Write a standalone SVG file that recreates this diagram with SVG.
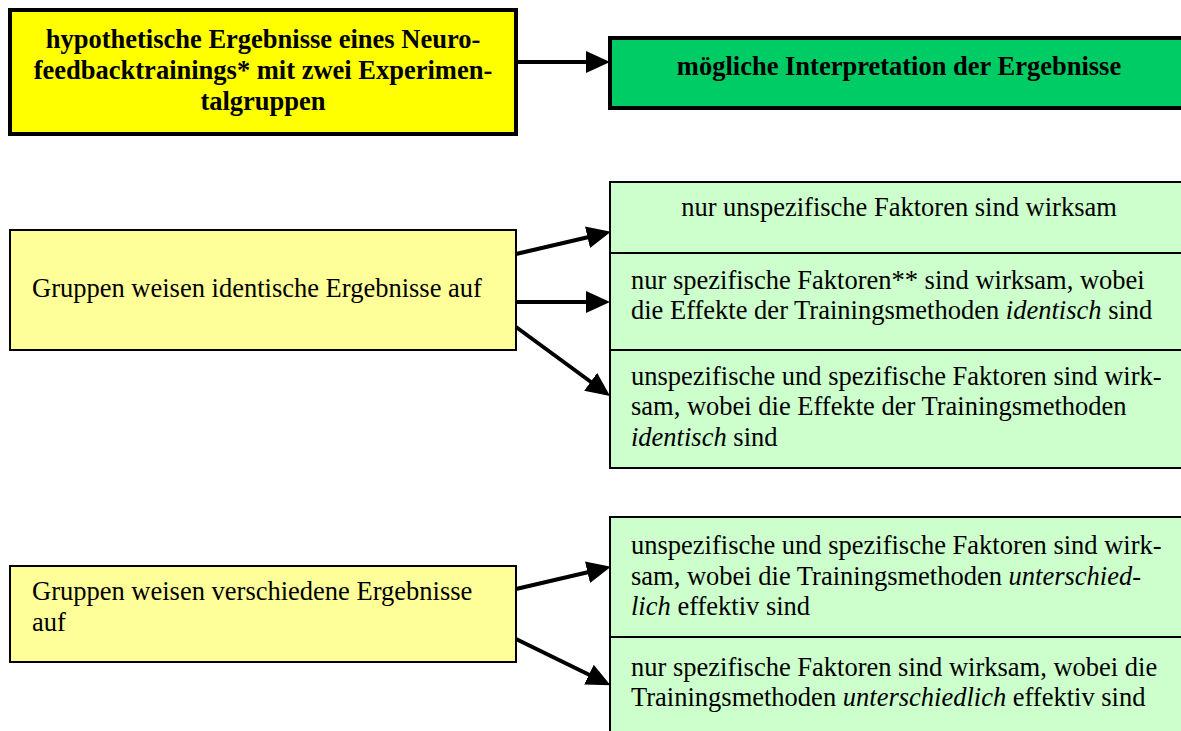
<svg xmlns="http://www.w3.org/2000/svg" width="1181" height="731" viewBox="0 0 1181 731">
<style>
  text { font-family: "Liberation Serif", "Times New Roman", serif; font-size: 26.5px; fill: #000; }
  .b { font-weight: bold; }
  .c { text-anchor: middle; }
  .head { stroke: #000; stroke-width: 4; }
  .thin { stroke: #000; stroke-width: 2; }
  .conn { stroke: #000; stroke-width: 4; fill: none; marker-end: url(#ah); }
</style>
<defs>
  <marker id="ah" viewBox="0 0 24 22" refX="19" refY="11" markerWidth="24" markerHeight="22" markerUnits="userSpaceOnUse" orient="auto">
    <path d="M0,0 L24,11 L0,22 Z" fill="#000"/>
  </marker>
</defs>
<rect width="1181" height="731" fill="#fff"/>

<g id="n-hypothese">
  <rect class="head" x="10" y="10" width="506" height="124" fill="#FFFF00"/>
  <text class="b c" x="263" y="48">hypothetische Ergebnisse eines Neuro-</text>
  <text class="b c" x="263" y="79">feedbacktrainings* mit zwei Experimen-</text>
  <text class="b c" x="263" y="110">talgruppen</text>
</g>
<g id="n-interpretation">
  <rect class="head" x="610" y="38" width="580" height="70" fill="#00CC66"/>
  <text class="b c" x="899" y="75">mögliche Interpretation der Ergebnisse</text>
</g>

<g id="n-identisch">
  <rect class="thin" x="10" y="230" width="506" height="120" fill="#FFFF99"/>
  <text x="32" y="297">Gruppen weisen identische Ergebnisse auf</text>
</g>
<g id="n-a">
  <rect class="thin" x="610" y="182" width="580" height="71" fill="#CCFFCC"/>
  <text class="c" x="899" y="216">nur unspezifische Faktoren sind wirksam</text>
</g>
<g id="n-b">
  <rect class="thin" x="610" y="253" width="580" height="97" fill="#CCFFCC"/>
  <text x="631" y="289">nur spezifische Faktoren** sind wirksam, wobei</text>
  <text x="631" y="319">die Effekte der Trainingsmethoden <tspan font-style="italic">identisch</tspan> sind</text>
</g>
<g id="n-c">
  <rect class="thin" x="610" y="350" width="580" height="118" fill="#CCFFCC"/>
  <text x="631" y="385">unspezifische und spezifische Faktoren sind wirk-</text>
  <text x="631" y="415">sam, wobei die Effekte der Trainingsmethoden</text>
  <text x="631" y="446"><tspan font-style="italic">identisch</tspan> sind</text>
</g>

<g id="n-verschieden">
  <rect class="thin" x="10" y="566" width="506" height="96" fill="#FFFF99"/>
  <text x="32" y="600">Gruppen weisen verschiedene Ergebnisse</text>
  <text x="32" y="631">auf</text>
</g>
<g id="n-d">
  <rect class="thin" x="610" y="517" width="580" height="120" fill="#CCFFCC"/>
  <text x="631" y="554">unspezifische und spezifische Faktoren sind wirk-</text>
  <text x="631" y="585">sam, wobei die Trainingsmethoden <tspan font-style="italic">unterschied-</tspan></text>
  <text x="631" y="615"><tspan font-style="italic">lich</tspan> effektiv sind</text>
</g>
<g id="n-e">
  <rect class="thin" x="610" y="637" width="580" height="100" fill="#CCFFCC"/>
  <text x="631" y="676">nur spezifische Faktoren sind wirksam, wobei die</text>
  <text x="631" y="706">Trainingsmethoden <tspan font-style="italic">unterschiedlich</tspan> effektiv sind</text>
</g>

<g id="connectors">
  <line class="conn" x1="516" y1="62" x2="605" y2="62"/>
  <line class="conn" x1="516" y1="254" x2="606" y2="233"/>
  <line class="conn" x1="516" y1="302" x2="605" y2="302"/>
  <line class="conn" x1="516" y1="327" x2="606" y2="393"/>
  <line class="conn" x1="516" y1="589" x2="606" y2="568"/>
  <line class="conn" x1="516" y1="639" x2="606" y2="683"/>
</g>
</svg>
